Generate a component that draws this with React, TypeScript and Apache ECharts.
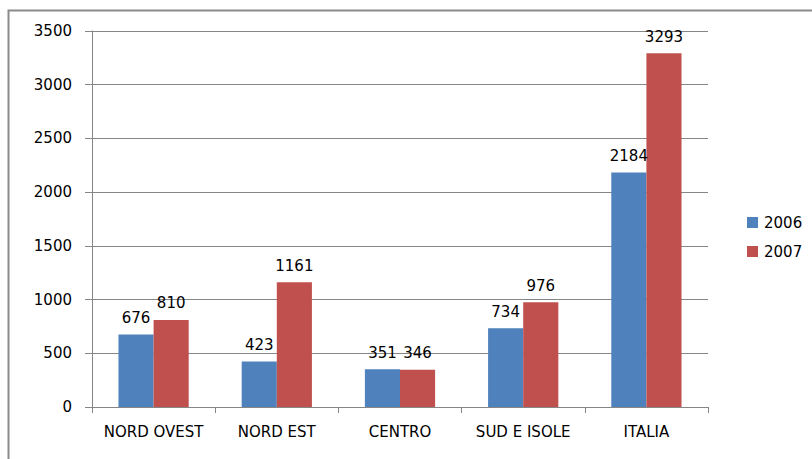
import React, { useEffect, useRef } from "react";
import * as echarts from "echarts";

const categories = ["NORD OVEST", "NORD EST", "CENTRO", "SUD E ISOLE", "ITALIA"];
const values2006 = [676, 423, 351, 734, 2184];
const values2007 = [810, 1161, 346, 976, 3293];
const seriesNames = ["2006", "2007"];

const FONT = "DejaVu Sans";
const GRAY = "#868686";

export default function App() {
  const ref = useRef<HTMLDivElement>(null);
  useEffect(() => {
    if (!ref.current) return;
    const chart = echarts.init(ref.current, null, { renderer: "svg" });
    const labelStyle = {
      show: true,
      position: "top" as const,
      distance: 9,
      color: "#000",
      fontFamily: FONT,
      fontSize: 15,
    };
    chart.setOption({
      animation: false,
      backgroundColor: "#fff",
      graphic: [
        {
          type: "rect",
          shape: { x: 8.5, y: 10.5, width: 900, height: 600 },
          style: { fill: "none", stroke: "#8a8a8a", lineWidth: 2 },
          silent: true,
        },
      ],
      grid: { left: 92, top: 31, right: 104, bottom: 52 },
      legend: {
        orient: "vertical",
        left: 742,
        top: 210,
        itemWidth: 11,
        itemHeight: 11,
        itemGap: 14,
        icon: "rect",
        textStyle: { fontFamily: FONT, fontSize: 15, color: "#000", padding: [0, 0, 0, 1] },
        data: seriesNames,
      },
      xAxis: {
        type: "category",
        data: categories,
        axisLine: { lineStyle: { color: GRAY, width: 1 } },
        axisTick: { show: true, length: 6, lineStyle: { color: GRAY } },
        axisLabel: { interval: 0, margin: 17, color: "#000", fontFamily: FONT, fontSize: 15 },
      },
      yAxis: {
        type: "value",
        min: 0,
        max: 3500,
        interval: 500,
        axisLine: { show: true, lineStyle: { color: GRAY, width: 1 } },
        axisTick: { show: true, length: 7, lineStyle: { color: GRAY } },
        splitLine: { lineStyle: { color: GRAY, width: 1 } },
        axisLabel: {
          margin: 20,
          color: "#000",
          fontFamily: FONT,
          fontSize: 15,
          formatter: (v: number) => String(v),
        },
      },
      series: [
        {
          name: seriesNames[0],
          type: "bar",
          data: values2006,
          itemStyle: { color: "#4F81BD" },
          barGap: "0%",
          barCategoryGap: "43%",
          label: labelStyle,
        },
        {
          name: seriesNames[1],
          type: "bar",
          data: values2007,
          itemStyle: { color: "#C0504D" },
          barGap: "0%",
          barCategoryGap: "43%",
          label: labelStyle,
        },
      ],
    });
    return () => chart.dispose();
  }, []);
  return (
    <div
      ref={ref}
      style={{ position: "absolute", left: 0, top: 0, width: 812, height: 459 }}
    />
  );
}
